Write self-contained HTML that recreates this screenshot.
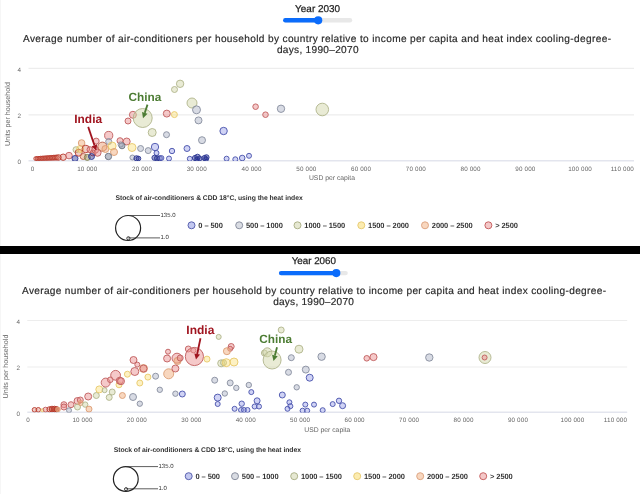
<!DOCTYPE html>
<html><head><meta charset="utf-8"><style>
html,body{margin:0;padding:0;background:#fff;width:640px;height:494px;overflow:hidden}
svg{display:block;font-family:"Liberation Sans", sans-serif;will-change:transform;text-rendering:geometricPrecision}
</style></head><body>
<svg width="640" height="494" viewBox="0 0 640 494">
<defs><clipPath id="c1"><rect x="0" y="60" width="640" height="101"/></clipPath><clipPath id="c2"><rect x="0" y="312" width="640" height="100.5"/></clipPath></defs>
<text x="317.6" y="11.6" font-size="9.95" fill="#222" stroke="#222" stroke-width="0.25" text-anchor="middle">Year 2030</text>
<line x1="285.3" x2="350" y1="20.3" y2="20.3" stroke="#e8e8e8" stroke-width="4.4" stroke-linecap="round"/>
<line x1="285.3" x2="318.2" y1="20.3" y2="20.3" stroke="#0b6cfb" stroke-width="4.4" stroke-linecap="round"/>
<circle cx="318.2" cy="20.3" r="4.1" fill="#0b6cfb"/>
<text x="317" y="41.8" font-size="10.1" fill="#2a2a2a" stroke="#2a2a2a" stroke-width="0.18" text-anchor="middle" textLength="588" lengthAdjust="spacing">Average number of air-conditioners per household by country relative to income per capita and heat index cooling-degree-</text>
<text x="317.7" y="53.1" font-size="10.1" fill="#2a2a2a" stroke="#2a2a2a" stroke-width="0.18" text-anchor="middle" textLength="81.6" lengthAdjust="spacing">days, 1990–2070</text>
<line x1="28.5" x2="634" y1="68.4" y2="68.4" stroke="#ededed" stroke-width="1.2"/>
<line x1="28.5" x2="634" y1="114.95" y2="114.95" stroke="#ededed" stroke-width="1.2"/>
<line x1="28.5" x2="634" y1="160.8" y2="160.8" stroke="#e3e5ee" stroke-width="1.6"/>
<text x="21" y="71.6" font-size="6.3" fill="#666" text-anchor="end">4</text>
<text x="21" y="117.8" font-size="6.3" fill="#666" text-anchor="end">2</text>
<text x="21" y="164" font-size="6.3" fill="#666" text-anchor="end">0</text>
<text transform="translate(10,114) rotate(-90)" font-size="7.2" fill="#666" text-anchor="middle">Units per household</text>
<text x="32.6" y="170.7" font-size="6.3" fill="#666" text-anchor="middle" letter-spacing="0.15">0</text>
<text x="87.3" y="170.7" font-size="6.3" fill="#666" text-anchor="middle" letter-spacing="0.15">10 000</text>
<text x="142.1" y="170.7" font-size="6.3" fill="#666" text-anchor="middle" letter-spacing="0.15">20 000</text>
<text x="196.8" y="170.7" font-size="6.3" fill="#666" text-anchor="middle" letter-spacing="0.15">30 000</text>
<text x="251.6" y="170.7" font-size="6.3" fill="#666" text-anchor="middle" letter-spacing="0.15">40 000</text>
<text x="306.4" y="170.7" font-size="6.3" fill="#666" text-anchor="middle" letter-spacing="0.15">50 000</text>
<text x="361.1" y="170.7" font-size="6.3" fill="#666" text-anchor="middle" letter-spacing="0.15">60 000</text>
<text x="415.9" y="170.7" font-size="6.3" fill="#666" text-anchor="middle" letter-spacing="0.15">70 000</text>
<text x="470.6" y="170.7" font-size="6.3" fill="#666" text-anchor="middle" letter-spacing="0.15">80 000</text>
<text x="525.4" y="170.7" font-size="6.3" fill="#666" text-anchor="middle" letter-spacing="0.15">90 000</text>
<text x="580.1" y="170.7" font-size="6.3" fill="#666" text-anchor="middle" letter-spacing="0.15">100 000</text>
<text x="634.0" y="170.7" font-size="6.3" fill="#666" text-anchor="end" letter-spacing="0.15">110 000</text>
<text x="332" y="180.3" font-size="6.8" fill="#666" text-anchor="middle">USD per capita</text>
<g clip-path="url(#c1)"><circle cx="35.8" cy="158.6" r="2.0" fill="rgba(215,110,90,0.35)" stroke="#b83a2e" stroke-width="0.9"/>
<circle cx="37.4" cy="158.51999999999998" r="2.04" fill="rgba(215,110,90,0.35)" stroke="#b83a2e" stroke-width="0.9"/>
<circle cx="39.0" cy="158.44" r="2.08" fill="rgba(215,110,90,0.35)" stroke="#b83a2e" stroke-width="0.9"/>
<circle cx="40.599999999999994" cy="158.35999999999999" r="2.12" fill="rgba(215,110,90,0.35)" stroke="#b83a2e" stroke-width="0.9"/>
<circle cx="42.199999999999996" cy="158.28" r="2.16" fill="rgba(215,110,90,0.35)" stroke="#b83a2e" stroke-width="0.9"/>
<circle cx="43.8" cy="158.2" r="2.2" fill="rgba(215,110,90,0.35)" stroke="#b83a2e" stroke-width="0.9"/>
<circle cx="45.4" cy="158.12" r="2.24" fill="rgba(215,110,90,0.35)" stroke="#b83a2e" stroke-width="0.9"/>
<circle cx="47.0" cy="158.04" r="2.2800000000000002" fill="rgba(215,110,90,0.35)" stroke="#b83a2e" stroke-width="0.9"/>
<circle cx="48.599999999999994" cy="157.96" r="2.32" fill="rgba(215,110,90,0.35)" stroke="#b83a2e" stroke-width="0.9"/>
<circle cx="50.199999999999996" cy="157.88" r="2.36" fill="rgba(215,110,90,0.35)" stroke="#b83a2e" stroke-width="0.9"/>
<circle cx="51.8" cy="157.79999999999998" r="2.4" fill="rgba(215,110,90,0.35)" stroke="#b83a2e" stroke-width="0.9"/>
<circle cx="53.4" cy="157.72" r="2.44" fill="rgba(215,110,90,0.35)" stroke="#b83a2e" stroke-width="0.9"/>
<circle cx="55.0" cy="157.64" r="2.48" fill="rgba(215,110,90,0.35)" stroke="#b83a2e" stroke-width="0.9"/>
<circle cx="56.599999999999994" cy="157.56" r="2.52" fill="rgba(215,110,90,0.35)" stroke="#b83a2e" stroke-width="0.9"/>
<circle cx="58.5" cy="157.5" r="2.8" fill="rgba(215,110,90,0.35)" stroke="#b83a2e" stroke-width="0.9"/>
<circle cx="63.2" cy="157.2" r="3.2" fill="rgba(215,110,90,0.35)" stroke="#b83a2e" stroke-width="0.9"/>
<circle cx="69" cy="155.6" r="3.3" fill="rgba(235,148,148,0.5)" stroke="#bf5c5c" stroke-width="0.9"/>
<circle cx="75" cy="158.5" r="3" fill="rgba(40,50,150,0.45)" stroke="#2c3792" stroke-width="0.9"/>
<circle cx="76" cy="149.7" r="3" fill="rgba(212,215,172,0.5)" stroke="#b0b48b" stroke-width="0.9"/>
<circle cx="78.7" cy="152.7" r="3.5" fill="rgba(215,110,90,0.35)" stroke="#b83a2e" stroke-width="0.9"/>
<circle cx="80.2" cy="149" r="3.5" fill="rgba(249,217,97,0.38)" stroke="#e8c86a" stroke-width="0.9"/>
<circle cx="81.6" cy="143" r="3.3" fill="rgba(241,175,127,0.5)" stroke="#db9d74" stroke-width="0.9"/>
<circle cx="83.2" cy="156.5" r="3" fill="rgba(235,160,120,0.5)" stroke="#b8604f" stroke-width="0.9"/>
<circle cx="93" cy="153" r="3" fill="rgba(215,110,90,0.35)" stroke="#b83a2e" stroke-width="0.9"/>
<circle cx="85.8" cy="149" r="3.8" fill="rgba(215,110,90,0.35)" stroke="#b83a2e" stroke-width="0.9"/>
<circle cx="87.3" cy="157.4" r="3" fill="rgba(150,150,90,0.5)" stroke="#7f8050" stroke-width="0.9"/>
<circle cx="90" cy="149.7" r="3" fill="rgba(235,148,148,0.5)" stroke="#bf5c5c" stroke-width="0.9"/>
<circle cx="95.2" cy="149.7" r="3.5" fill="rgba(235,148,148,0.5)" stroke="#bf5c5c" stroke-width="0.9"/>
<circle cx="96.2" cy="141.1" r="3" fill="rgba(235,148,148,0.5)" stroke="#bf5c5c" stroke-width="0.9"/>
<circle cx="97.5" cy="152.7" r="3.6" fill="rgba(235,148,148,0.5)" stroke="#bf5c5c" stroke-width="0.9"/>
<circle cx="91.5" cy="156.5" r="3" fill="rgba(40,50,150,0.45)" stroke="#2c3792" stroke-width="0.9"/>
<circle cx="102.4" cy="146.7" r="4.6" fill="rgba(235,160,120,0.5)" stroke="#b8604f" stroke-width="0.9"/>
<circle cx="105.4" cy="149" r="3.5" fill="rgba(241,175,127,0.5)" stroke="#db9d74" stroke-width="0.9"/>
<circle cx="108.7" cy="135.5" r="4.1" fill="rgba(235,148,148,0.5)" stroke="#bf5c5c" stroke-width="0.9"/>
<circle cx="108.7" cy="141.5" r="3" fill="rgba(178,184,202,0.5)" stroke="#878d9e" stroke-width="0.9"/>
<circle cx="112.1" cy="146" r="4" fill="rgba(249,217,97,0.38)" stroke="#e8c86a" stroke-width="0.9"/>
<circle cx="114" cy="152" r="3.5" fill="rgba(241,175,127,0.5)" stroke="#db9d74" stroke-width="0.9"/>
<circle cx="108.4" cy="156.5" r="3.2" fill="rgba(120,128,148,0.5)" stroke="#6a7080" stroke-width="0.9"/>
<circle cx="120" cy="140.7" r="3" fill="rgba(235,148,148,0.5)" stroke="#bf5c5c" stroke-width="0.9"/>
<circle cx="126.7" cy="141.5" r="3.5" fill="rgba(235,148,148,0.5)" stroke="#bf5c5c" stroke-width="0.9"/>
<circle cx="122" cy="145.8" r="3" fill="rgba(120,128,148,0.5)" stroke="#6a7080" stroke-width="0.9"/>
<circle cx="120.7" cy="144.5" r="2.6" fill="rgba(178,184,202,0.5)" stroke="#878d9e" stroke-width="0.9"/>
<circle cx="128" cy="121" r="3" fill="rgba(235,148,148,0.5)" stroke="#bf5c5c" stroke-width="0.9"/>
<circle cx="132.9" cy="114.8" r="3.5" fill="rgba(235,148,148,0.5)" stroke="#bf5c5c" stroke-width="0.9"/>
<circle cx="142.7" cy="118" r="9.5" fill="rgba(212,215,172,0.5)" stroke="#b0b48b" stroke-width="0.9"/>
<circle cx="152.2" cy="132.5" r="4" fill="rgba(212,215,172,0.5)" stroke="#b0b48b" stroke-width="0.9"/>
<circle cx="166.5" cy="134.7" r="3" fill="rgba(178,184,202,0.5)" stroke="#878d9e" stroke-width="0.9"/>
<circle cx="166.8" cy="113.6" r="3.5" fill="rgba(235,148,148,0.5)" stroke="#bf5c5c" stroke-width="0.9"/>
<circle cx="132" cy="147.5" r="4" fill="rgba(249,217,97,0.38)" stroke="#e8c86a" stroke-width="0.9"/>
<circle cx="140.6" cy="148.5" r="3" fill="rgba(178,184,202,0.5)" stroke="#878d9e" stroke-width="0.9"/>
<circle cx="148.2" cy="150.6" r="3" fill="rgba(178,184,202,0.5)" stroke="#878d9e" stroke-width="0.9"/>
<circle cx="155" cy="147" r="3.7" fill="rgba(150,158,232,0.45)" stroke="#4650aa" stroke-width="0.9"/>
<circle cx="156.5" cy="153" r="2.5" fill="rgba(150,158,232,0.45)" stroke="#4650aa" stroke-width="0.9"/>
<circle cx="132.4" cy="157.5" r="2.5" fill="rgba(178,184,202,0.5)" stroke="#878d9e" stroke-width="0.9"/>
<circle cx="136.5" cy="158.3" r="2.6" fill="rgba(40,50,150,0.45)" stroke="#2c3792" stroke-width="0.9"/>
<circle cx="138.5" cy="158.5" r="2.3" fill="rgba(40,50,150,0.45)" stroke="#2c3792" stroke-width="0.9"/>
<circle cx="154.5" cy="157.8" r="2.6" fill="rgba(40,50,150,0.45)" stroke="#2c3792" stroke-width="0.9"/>
<circle cx="157" cy="158.3" r="2.6" fill="rgba(40,50,150,0.45)" stroke="#2c3792" stroke-width="0.9"/>
<circle cx="159.8" cy="158.3" r="2.6" fill="rgba(40,50,150,0.45)" stroke="#2c3792" stroke-width="0.9"/>
<circle cx="161.5" cy="158" r="2.4" fill="rgba(150,158,232,0.45)" stroke="#4650aa" stroke-width="0.9"/>
<circle cx="180.1" cy="83.8" r="3.7" fill="rgba(212,215,172,0.5)" stroke="#b0b48b" stroke-width="0.9"/>
<circle cx="174.5" cy="89.5" r="3" fill="rgba(212,215,172,0.5)" stroke="#b0b48b" stroke-width="0.9"/>
<circle cx="192" cy="103" r="5" fill="rgba(212,215,172,0.5)" stroke="#b0b48b" stroke-width="0.9"/>
<circle cx="196.5" cy="109.8" r="4" fill="rgba(178,184,202,0.5)" stroke="#878d9e" stroke-width="0.9"/>
<circle cx="174.4" cy="114.6" r="3" fill="rgba(249,217,97,0.38)" stroke="#e8c86a" stroke-width="0.9"/>
<circle cx="198.5" cy="120.4" r="3.5" fill="rgba(178,184,202,0.5)" stroke="#878d9e" stroke-width="0.9"/>
<circle cx="202" cy="140.2" r="3.5" fill="rgba(178,184,202,0.5)" stroke="#878d9e" stroke-width="0.9"/>
<circle cx="187" cy="148.5" r="3" fill="rgba(150,158,232,0.45)" stroke="#4650aa" stroke-width="0.9"/>
<circle cx="172" cy="151" r="2.7" fill="rgba(150,158,232,0.45)" stroke="#4650aa" stroke-width="0.9"/>
<circle cx="169" cy="158.5" r="2.5" fill="rgba(150,158,232,0.45)" stroke="#4650aa" stroke-width="0.9"/>
<circle cx="189.8" cy="158.8" r="2.5" fill="rgba(150,158,232,0.45)" stroke="#4650aa" stroke-width="0.9"/>
<circle cx="195" cy="158" r="2.6" fill="rgba(40,50,150,0.45)" stroke="#2c3792" stroke-width="0.9"/>
<circle cx="197.5" cy="157" r="2.8" fill="rgba(40,50,150,0.45)" stroke="#2c3792" stroke-width="0.9"/>
<circle cx="199.5" cy="158.5" r="2.5" fill="rgba(40,50,150,0.45)" stroke="#2c3792" stroke-width="0.9"/>
<circle cx="197" cy="159.5" r="2.4" fill="rgba(40,50,150,0.45)" stroke="#2c3792" stroke-width="0.9"/>
<circle cx="204.5" cy="158" r="2.6" fill="rgba(40,50,150,0.45)" stroke="#2c3792" stroke-width="0.9"/>
<circle cx="206.5" cy="157.3" r="2.6" fill="rgba(40,50,150,0.45)" stroke="#2c3792" stroke-width="0.9"/>
<circle cx="206" cy="159.2" r="2.4" fill="rgba(40,50,150,0.45)" stroke="#2c3792" stroke-width="0.9"/>
<circle cx="223.6" cy="131" r="3.7" fill="rgba(150,158,232,0.45)" stroke="#4650aa" stroke-width="0.9"/>
<circle cx="226.6" cy="158.7" r="2.5" fill="rgba(150,158,232,0.45)" stroke="#4650aa" stroke-width="0.9"/>
<circle cx="235.3" cy="159.3" r="2.5" fill="rgba(150,158,232,0.45)" stroke="#4650aa" stroke-width="0.9"/>
<circle cx="242.2" cy="158" r="2.8" fill="rgba(150,158,232,0.45)" stroke="#4650aa" stroke-width="0.9"/>
<circle cx="249" cy="155.8" r="2.5" fill="rgba(150,158,232,0.45)" stroke="#4650aa" stroke-width="0.9"/>
<circle cx="255.6" cy="106.7" r="2.8" fill="rgba(235,148,148,0.5)" stroke="#bf5c5c" stroke-width="0.9"/>
<circle cx="265.5" cy="114.7" r="2.8" fill="rgba(235,148,148,0.5)" stroke="#bf5c5c" stroke-width="0.9"/>
<circle cx="281" cy="108.75" r="3.7" fill="rgba(178,184,202,0.5)" stroke="#878d9e" stroke-width="0.9"/>
<circle cx="322.3" cy="109.5" r="6.3" fill="rgba(212,215,172,0.5)" stroke="#b0b48b" stroke-width="0.9"/></g>
<text x="115.5" y="200.4" font-size="6.8" font-weight="bold" fill="#333" letter-spacing="-0.05">Stock of air-conditioners &amp; CDD 18°C, using the heat index</text>
<circle cx="128.1" cy="228" r="12.5" fill="none" stroke="#222" stroke-width="1.2"/>
<circle cx="128.4" cy="238.3" r="1.6" fill="none" stroke="#222" stroke-width="0.9"/>
<line x1="128.1" x2="160" y1="215.5" y2="215.5" stroke="#333" stroke-width="0.8"/>
<line x1="128.1" x2="160" y1="237.9" y2="237.9" stroke="#333" stroke-width="0.8"/>
<text x="160.5" y="216.9" font-size="6" fill="#333">135.0</text>
<text x="160.5" y="239.2" font-size="6" fill="#333">1.0</text>
<circle cx="191.5" cy="225.3" r="3.5" fill="#c3c8f0" stroke="#5a62b0" stroke-width="1"/>
<text x="198.3" y="228.10000000000002" font-size="7.5" font-weight="bold" letter-spacing="-0.08" fill="#333">0 – 500</text>
<circle cx="239.2" cy="225.3" r="3.5" fill="#d9dce3" stroke="#8a90a0" stroke-width="1"/>
<text x="246.0" y="228.10000000000002" font-size="7.5" font-weight="bold" letter-spacing="-0.08" fill="#333">500 – 1000</text>
<circle cx="297.5" cy="225.3" r="3.5" fill="#e6e8d2" stroke="#aeb38a" stroke-width="1"/>
<text x="304.3" y="228.10000000000002" font-size="7.5" font-weight="bold" letter-spacing="-0.08" fill="#333">1000 – 1500</text>
<circle cx="361.3" cy="225.3" r="3.5" fill="#fcecb0" stroke="#e8cc76" stroke-width="1"/>
<text x="368.1" y="228.10000000000002" font-size="7.5" font-weight="bold" letter-spacing="-0.08" fill="#333">1500 – 2000</text>
<circle cx="425" cy="225.3" r="3.5" fill="#f8d7bf" stroke="#dea684" stroke-width="1"/>
<text x="431.8" y="228.10000000000002" font-size="7.5" font-weight="bold" letter-spacing="-0.08" fill="#333">2000 – 2500</text>
<circle cx="488.4" cy="225.3" r="3.5" fill="#f4c8c8" stroke="#c86464" stroke-width="1"/>
<text x="495.2" y="228.10000000000002" font-size="7.5" font-weight="bold" letter-spacing="-0.08" fill="#333">&gt; 2500</text>
<text x="74.3" y="122.8" font-size="11.9" font-weight="bold" fill="#a0141f">India</text>
<line x1="88.2" y1="126.9" x2="94.41" y2="145.29" stroke="#a0141f" stroke-width="1.8"/>
<polygon points="96.2,150.6 91.66,146.22 97.16,144.37" fill="#a0141f"/>
<text x="128.5" y="101" font-size="11.8" font-weight="bold" fill="#4c7c33">China</text>
<line x1="147.5" y1="104.6" x2="144.76" y2="112.88" stroke="#4c7c33" stroke-width="1.8"/>
<polygon points="143,118.2 142.01,111.97 147.51,113.79" fill="#4c7c33"/>
<line x1="0.5" x2="0.5" y1="0" y2="494" stroke="#f6f6f6" stroke-width="1"/>
<rect x="0" y="246" width="640" height="8" fill="#000"/>
<text x="313.8" y="264.1" font-size="9.8" fill="#222" stroke="#222" stroke-width="0.25" text-anchor="middle">Year 2060</text>
<line x1="281.1" x2="345.6" y1="273.1" y2="273.1" stroke="#e8e8e8" stroke-width="4.4" stroke-linecap="round"/>
<line x1="281.1" x2="336.3" y1="273.1" y2="273.1" stroke="#0b6cfb" stroke-width="4.4" stroke-linecap="round"/>
<circle cx="336.3" cy="273.1" r="4.1" fill="#0b6cfb"/>
<text x="314" y="294" font-size="10.1" fill="#2a2a2a" stroke="#2a2a2a" stroke-width="0.18" text-anchor="middle" textLength="584" lengthAdjust="spacing">Average number of air-conditioners per household by country relative to income per capita and heat index cooling-degree-</text>
<text x="313.5" y="305" font-size="10.1" fill="#2a2a2a" stroke="#2a2a2a" stroke-width="0.18" text-anchor="middle" textLength="80.7" lengthAdjust="spacing">days, 1990–2070</text>
<line x1="27.3" x2="627.2" y1="320.5" y2="320.5" stroke="#ededed" stroke-width="1.2"/>
<line x1="27.3" x2="627.2" y1="367.0" y2="367.0" stroke="#ededed" stroke-width="1.2"/>
<line x1="27.3" x2="627.2" y1="412.2" y2="412.2" stroke="#e3e5ee" stroke-width="1.6"/>
<text x="20" y="324" font-size="6.3" fill="#666" text-anchor="end">4</text>
<text x="20" y="369.7" font-size="6.3" fill="#666" text-anchor="end">2</text>
<text x="20" y="415.5" font-size="6.3" fill="#666" text-anchor="end">0</text>
<text transform="translate(8.4,366.5) rotate(-90)" font-size="7.2" fill="#666" text-anchor="middle">Units per household</text>
<text x="28.0" y="422.2" font-size="6.3" fill="#666" text-anchor="middle" letter-spacing="0.15">0</text>
<text x="82.5" y="422.2" font-size="6.3" fill="#666" text-anchor="middle" letter-spacing="0.15">10 000</text>
<text x="136.9" y="422.2" font-size="6.3" fill="#666" text-anchor="middle" letter-spacing="0.15">20 000</text>
<text x="191.4" y="422.2" font-size="6.3" fill="#666" text-anchor="middle" letter-spacing="0.15">30 000</text>
<text x="245.8" y="422.2" font-size="6.3" fill="#666" text-anchor="middle" letter-spacing="0.15">40 000</text>
<text x="300.2" y="422.2" font-size="6.3" fill="#666" text-anchor="middle" letter-spacing="0.15">50 000</text>
<text x="354.7" y="422.2" font-size="6.3" fill="#666" text-anchor="middle" letter-spacing="0.15">60 000</text>
<text x="409.2" y="422.2" font-size="6.3" fill="#666" text-anchor="middle" letter-spacing="0.15">70 000</text>
<text x="463.6" y="422.2" font-size="6.3" fill="#666" text-anchor="middle" letter-spacing="0.15">80 000</text>
<text x="518.0" y="422.2" font-size="6.3" fill="#666" text-anchor="middle" letter-spacing="0.15">90 000</text>
<text x="572.5" y="422.2" font-size="6.3" fill="#666" text-anchor="middle" letter-spacing="0.15">100 000</text>
<text x="627.2" y="422.2" font-size="6.3" fill="#666" text-anchor="end" letter-spacing="0.15">110 000</text>
<text x="327.3" y="431.5" font-size="6.8" fill="#666" text-anchor="middle">USD per capita</text>
<g clip-path="url(#c2)"><circle cx="34.5" cy="409.8" r="2.3" fill="rgba(215,110,90,0.35)" stroke="#b83a2e" stroke-width="0.9"/>
<circle cx="38.3" cy="409.8" r="2.3" fill="rgba(215,110,90,0.35)" stroke="#b83a2e" stroke-width="0.9"/>
<circle cx="42.5" cy="410.2" r="1.6" fill="rgba(249,217,97,0.38)" stroke="#e8c86a" stroke-width="0.9"/>
<circle cx="45.5" cy="409.6" r="2.4" fill="rgba(235,148,148,0.5)" stroke="#bf5c5c" stroke-width="0.9"/>
<circle cx="49.5" cy="409.3" r="2.6" fill="rgba(215,110,90,0.35)" stroke="#b83a2e" stroke-width="0.9"/>
<circle cx="52" cy="409" r="2.8" fill="rgba(190,60,40,0.55)" stroke="#b4382a" stroke-width="0.9"/>
<circle cx="54.5" cy="409" r="2.8" fill="rgba(190,60,40,0.55)" stroke="#b4382a" stroke-width="0.9"/>
<circle cx="56.5" cy="409.2" r="2.7" fill="rgba(190,60,40,0.55)" stroke="#b4382a" stroke-width="0.9"/>
<circle cx="58" cy="409.5" r="2.3" fill="rgba(241,175,127,0.5)" stroke="#db9d74" stroke-width="0.9"/>
<circle cx="63.9" cy="404.7" r="3" fill="rgba(235,148,148,0.5)" stroke="#bf5c5c" stroke-width="0.9"/>
<circle cx="63.9" cy="407" r="3" fill="rgba(235,148,148,0.5)" stroke="#bf5c5c" stroke-width="0.9"/>
<circle cx="71" cy="404.7" r="3" fill="rgba(235,148,148,0.5)" stroke="#bf5c5c" stroke-width="0.9"/>
<circle cx="69" cy="410.3" r="2.5" fill="rgba(178,184,202,0.5)" stroke="#878d9e" stroke-width="0.9"/>
<circle cx="77.5" cy="401" r="3.5" fill="rgba(235,148,148,0.5)" stroke="#bf5c5c" stroke-width="0.9"/>
<circle cx="80.3" cy="400" r="3" fill="rgba(235,148,148,0.5)" stroke="#bf5c5c" stroke-width="0.9"/>
<circle cx="77.5" cy="407" r="3" fill="rgba(212,215,172,0.5)" stroke="#b0b48b" stroke-width="0.9"/>
<circle cx="80.6" cy="403" r="2.5" fill="rgba(241,175,127,0.5)" stroke="#db9d74" stroke-width="0.9"/>
<circle cx="85.2" cy="404.6" r="2.7" fill="rgba(212,215,172,0.5)" stroke="#b0b48b" stroke-width="0.9"/>
<circle cx="89" cy="409.1" r="3" fill="rgba(241,175,127,0.5)" stroke="#db9d74" stroke-width="0.9"/>
<circle cx="88.2" cy="396.5" r="3.5" fill="rgba(235,148,148,0.5)" stroke="#bf5c5c" stroke-width="0.9"/>
<circle cx="96.3" cy="395.5" r="3" fill="rgba(212,215,172,0.5)" stroke="#b0b48b" stroke-width="0.9"/>
<circle cx="99.3" cy="389.4" r="3.5" fill="rgba(249,217,97,0.38)" stroke="#e8c86a" stroke-width="0.9"/>
<circle cx="104.6" cy="390.2" r="2.5" fill="rgba(212,215,172,0.5)" stroke="#b0b48b" stroke-width="0.9"/>
<circle cx="112.2" cy="392" r="3" fill="rgba(212,215,172,0.5)" stroke="#b0b48b" stroke-width="0.9"/>
<circle cx="109.2" cy="397.4" r="3" fill="rgba(212,215,172,0.5)" stroke="#b0b48b" stroke-width="0.9"/>
<circle cx="122.4" cy="395.5" r="3" fill="rgba(241,175,127,0.5)" stroke="#db9d74" stroke-width="0.9"/>
<circle cx="105.7" cy="382.6" r="4.5" fill="rgba(235,148,148,0.5)" stroke="#bf5c5c" stroke-width="0.9"/>
<circle cx="110.3" cy="379.8" r="2.8" fill="rgba(235,148,148,0.5)" stroke="#bf5c5c" stroke-width="0.9"/>
<circle cx="115.6" cy="375.3" r="4.9" fill="rgba(235,148,148,0.5)" stroke="#bf5c5c" stroke-width="0.9"/>
<circle cx="119" cy="384.8" r="3" fill="rgba(249,217,97,0.38)" stroke="#e8c86a" stroke-width="0.9"/>
<circle cx="119.8" cy="380.7" r="3.5" fill="rgba(235,148,148,0.5)" stroke="#bf5c5c" stroke-width="0.9"/>
<circle cx="127.4" cy="374.2" r="3" fill="rgba(249,217,97,0.38)" stroke="#e8c86a" stroke-width="0.9"/>
<circle cx="121" cy="381.2" r="3.5" fill="rgba(235,148,148,0.5)" stroke="#bf5c5c" stroke-width="0.9"/>
<circle cx="133.5" cy="360" r="3.5" fill="rgba(235,148,148,0.5)" stroke="#bf5c5c" stroke-width="0.9"/>
<circle cx="137.3" cy="364.6" r="2.5" fill="rgba(235,148,148,0.5)" stroke="#bf5c5c" stroke-width="0.9"/>
<circle cx="134.8" cy="371.5" r="4" fill="rgba(235,148,148,0.5)" stroke="#bf5c5c" stroke-width="0.9"/>
<circle cx="143.5" cy="368.5" r="4" fill="rgba(241,175,127,0.5)" stroke="#db9d74" stroke-width="0.9"/>
<circle cx="143.5" cy="368.5" r="3.5" fill="rgba(235,148,148,0.5)" stroke="#bf5c5c" stroke-width="0.9"/>
<circle cx="147.9" cy="377.1" r="3" fill="rgba(249,217,97,0.38)" stroke="#e8c86a" stroke-width="0.9"/>
<circle cx="139.8" cy="383" r="3" fill="rgba(249,217,97,0.38)" stroke="#e8c86a" stroke-width="0.9"/>
<circle cx="155.6" cy="376.2" r="3" fill="rgba(178,184,202,0.5)" stroke="#878d9e" stroke-width="0.9"/>
<circle cx="159.8" cy="389.8" r="2.7" fill="rgba(178,184,202,0.5)" stroke="#878d9e" stroke-width="0.9"/>
<circle cx="133" cy="397" r="3.5" fill="rgba(178,184,202,0.5)" stroke="#878d9e" stroke-width="0.9"/>
<circle cx="139.8" cy="403.7" r="2.7" fill="rgba(178,184,202,0.5)" stroke="#878d9e" stroke-width="0.9"/>
<circle cx="175.4" cy="393.7" r="2.7" fill="rgba(178,184,202,0.5)" stroke="#878d9e" stroke-width="0.9"/>
<circle cx="168" cy="351.7" r="2.5" fill="rgba(235,148,148,0.5)" stroke="#bf5c5c" stroke-width="0.9"/>
<circle cx="167.1" cy="358.5" r="3.5" fill="rgba(235,148,148,0.5)" stroke="#bf5c5c" stroke-width="0.9"/>
<circle cx="168.7" cy="373.8" r="5" fill="rgba(241,175,127,0.5)" stroke="#db9d74" stroke-width="0.9"/>
<circle cx="177" cy="358.2" r="5" fill="rgba(235,148,148,0.5)" stroke="#bf5c5c" stroke-width="0.9"/>
<circle cx="177.5" cy="361" r="3.6" fill="rgba(241,175,127,0.5)" stroke="#db9d74" stroke-width="0.9"/>
<circle cx="175.4" cy="368.5" r="3.5" fill="rgba(235,148,148,0.5)" stroke="#bf5c5c" stroke-width="0.9"/>
<circle cx="180.2" cy="358" r="3" fill="rgba(235,148,148,0.5)" stroke="#bf5c5c" stroke-width="0.9"/>
<circle cx="188.3" cy="349" r="3" fill="rgba(235,148,148,0.5)" stroke="#bf5c5c" stroke-width="0.9"/>
<circle cx="193.4" cy="350.4" r="2.5" fill="rgba(235,148,148,0.5)" stroke="#bf5c5c" stroke-width="0.9"/>
<circle cx="194.4" cy="356.5" r="9.1" fill="rgba(235,148,148,0.5)" stroke="#bf5c5c" stroke-width="0.9"/>
<circle cx="207" cy="359.1" r="3" fill="rgba(249,217,97,0.38)" stroke="#e8c86a" stroke-width="0.9"/>
<circle cx="214.7" cy="380.2" r="3" fill="rgba(178,184,202,0.5)" stroke="#878d9e" stroke-width="0.9"/>
<circle cx="182.3" cy="394" r="3" fill="rgba(150,158,232,0.45)" stroke="#4650aa" stroke-width="0.9"/>
<circle cx="217.7" cy="397.6" r="3.5" fill="rgba(150,158,232,0.45)" stroke="#4650aa" stroke-width="0.9"/>
<circle cx="217.7" cy="404" r="2.5" fill="rgba(150,158,232,0.45)" stroke="#4650aa" stroke-width="0.9"/>
<circle cx="218.7" cy="336.9" r="2.5" fill="rgba(212,215,172,0.5)" stroke="#b0b48b" stroke-width="0.9"/>
<circle cx="231.2" cy="346.5" r="3" fill="rgba(235,148,148,0.5)" stroke="#bf5c5c" stroke-width="0.9"/>
<circle cx="230.2" cy="348.8" r="2.5" fill="rgba(235,148,148,0.5)" stroke="#bf5c5c" stroke-width="0.9"/>
<circle cx="226.9" cy="351.2" r="3.5" fill="rgba(241,175,127,0.5)" stroke="#db9d74" stroke-width="0.9"/>
<circle cx="221.2" cy="363.3" r="3.5" fill="rgba(212,215,172,0.5)" stroke="#b0b48b" stroke-width="0.9"/>
<circle cx="223.5" cy="362.7" r="3" fill="rgba(212,215,172,0.5)" stroke="#b0b48b" stroke-width="0.9"/>
<circle cx="226.3" cy="362.7" r="4" fill="rgba(249,217,97,0.38)" stroke="#e8c86a" stroke-width="0.9"/>
<circle cx="234" cy="362" r="4" fill="rgba(249,217,97,0.38)" stroke="#e8c86a" stroke-width="0.9"/>
<circle cx="230.2" cy="382.9" r="3" fill="rgba(178,184,202,0.5)" stroke="#878d9e" stroke-width="0.9"/>
<circle cx="236.3" cy="387.9" r="2.7" fill="rgba(178,184,202,0.5)" stroke="#878d9e" stroke-width="0.9"/>
<circle cx="248.8" cy="385" r="2.7" fill="rgba(178,184,202,0.5)" stroke="#878d9e" stroke-width="0.9"/>
<circle cx="224.8" cy="393.5" r="2.7" fill="rgba(178,184,202,0.5)" stroke="#878d9e" stroke-width="0.9"/>
<circle cx="251.3" cy="392.1" r="2.5" fill="rgba(150,158,232,0.45)" stroke="#4650aa" stroke-width="0.9"/>
<circle cx="241.7" cy="403.7" r="2.7" fill="rgba(150,158,232,0.45)" stroke="#4650aa" stroke-width="0.9"/>
<circle cx="234.6" cy="408.8" r="2.5" fill="rgba(150,158,232,0.45)" stroke="#4650aa" stroke-width="0.9"/>
<circle cx="241" cy="410" r="2.5" fill="rgba(150,158,232,0.45)" stroke="#4650aa" stroke-width="0.9"/>
<circle cx="244" cy="410" r="2.5" fill="rgba(150,158,232,0.45)" stroke="#4650aa" stroke-width="0.9"/>
<circle cx="247.5" cy="410" r="2.5" fill="rgba(150,158,232,0.45)" stroke="#4650aa" stroke-width="0.9"/>
<circle cx="257.1" cy="400.8" r="3" fill="rgba(150,158,232,0.45)" stroke="#4650aa" stroke-width="0.9"/>
<circle cx="254.6" cy="406.5" r="2.5" fill="rgba(150,158,232,0.45)" stroke="#4650aa" stroke-width="0.9"/>
<circle cx="259" cy="406.5" r="2.5" fill="rgba(150,158,232,0.45)" stroke="#4650aa" stroke-width="0.9"/>
<circle cx="264.4" cy="353" r="3" fill="rgba(212,215,172,0.5)" stroke="#b0b48b" stroke-width="0.9"/>
<circle cx="267.3" cy="352.3" r="4.5" fill="rgba(212,215,172,0.5)" stroke="#b0b48b" stroke-width="0.9"/>
<circle cx="272.1" cy="360" r="9" fill="rgba(212,215,172,0.5)" stroke="#b0b48b" stroke-width="0.9"/>
<circle cx="281.2" cy="330" r="3" fill="rgba(212,215,172,0.5)" stroke="#b0b48b" stroke-width="0.9"/>
<circle cx="299" cy="349.2" r="4" fill="rgba(212,215,172,0.5)" stroke="#b0b48b" stroke-width="0.9"/>
<circle cx="291.3" cy="357.7" r="3" fill="rgba(178,184,202,0.5)" stroke="#878d9e" stroke-width="0.9"/>
<circle cx="288.5" cy="372.3" r="3" fill="rgba(178,184,202,0.5)" stroke="#878d9e" stroke-width="0.9"/>
<circle cx="305.8" cy="369.6" r="3.5" fill="rgba(178,184,202,0.5)" stroke="#878d9e" stroke-width="0.9"/>
<circle cx="309.7" cy="377.7" r="3.5" fill="rgba(150,158,232,0.45)" stroke="#4650aa" stroke-width="0.9"/>
<circle cx="296.7" cy="387.3" r="2.7" fill="rgba(178,184,202,0.5)" stroke="#878d9e" stroke-width="0.9"/>
<circle cx="282.3" cy="395" r="3" fill="rgba(150,158,232,0.45)" stroke="#4650aa" stroke-width="0.9"/>
<circle cx="289.4" cy="402.3" r="2.5" fill="rgba(150,158,232,0.45)" stroke="#4650aa" stroke-width="0.9"/>
<circle cx="290.4" cy="406.2" r="2.5" fill="rgba(150,158,232,0.45)" stroke="#4650aa" stroke-width="0.9"/>
<circle cx="287.5" cy="408.8" r="2.5" fill="rgba(150,158,232,0.45)" stroke="#4650aa" stroke-width="0.9"/>
<circle cx="321.6" cy="356.7" r="3.7" fill="rgba(178,184,202,0.5)" stroke="#878d9e" stroke-width="0.9"/>
<circle cx="305.3" cy="404.6" r="2.5" fill="rgba(150,158,232,0.45)" stroke="#4650aa" stroke-width="0.9"/>
<circle cx="314" cy="404.6" r="2.5" fill="rgba(150,158,232,0.45)" stroke="#4650aa" stroke-width="0.9"/>
<circle cx="302.6" cy="410.7" r="2.5" fill="rgba(150,158,232,0.45)" stroke="#4650aa" stroke-width="0.9"/>
<circle cx="307.2" cy="410.7" r="2.5" fill="rgba(150,158,232,0.45)" stroke="#4650aa" stroke-width="0.9"/>
<circle cx="322.7" cy="410.2" r="2.5" fill="rgba(150,158,232,0.45)" stroke="#4650aa" stroke-width="0.9"/>
<circle cx="332.7" cy="404.1" r="2.5" fill="rgba(150,158,232,0.45)" stroke="#4650aa" stroke-width="0.9"/>
<circle cx="339" cy="400.8" r="2.7" fill="rgba(150,158,232,0.45)" stroke="#4650aa" stroke-width="0.9"/>
<circle cx="342.6" cy="405.7" r="3" fill="rgba(150,158,232,0.45)" stroke="#4650aa" stroke-width="0.9"/>
<circle cx="366.75" cy="358.3" r="2.8" fill="rgba(235,148,148,0.5)" stroke="#bf5c5c" stroke-width="0.9"/>
<circle cx="373.5" cy="357.1" r="3.55" fill="rgba(235,148,148,0.5)" stroke="#bf5c5c" stroke-width="0.9"/>
<circle cx="429.3" cy="357.5" r="3.7" fill="rgba(178,184,202,0.5)" stroke="#878d9e" stroke-width="0.9"/>
<circle cx="485" cy="357.5" r="6" fill="rgba(212,215,172,0.5)" stroke="#b0b48b" stroke-width="0.9"/>
<circle cx="484.6" cy="357.5" r="2.5" fill="rgba(235,148,148,0.5)" stroke="#bf5c5c" stroke-width="0.9"/></g>
<text x="113.75" y="452" font-size="6.8" font-weight="bold" fill="#333" letter-spacing="-0.05">Stock of air-conditioners &amp; CDD 18°C, using the heat index</text>
<circle cx="125.8" cy="479" r="12.4" fill="none" stroke="#222" stroke-width="1.2"/>
<circle cx="126.1" cy="489.2" r="1.6" fill="none" stroke="#222" stroke-width="0.9"/>
<line x1="125.8" x2="158" y1="466.6" y2="466.6" stroke="#333" stroke-width="0.8"/>
<line x1="125.8" x2="158" y1="488.79999999999995" y2="488.79999999999995" stroke="#333" stroke-width="0.8"/>
<text x="158.5" y="468.0" font-size="6" fill="#333">135.0</text>
<text x="158.5" y="490.09999999999997" font-size="6" fill="#333">1.0</text>
<circle cx="188.7" cy="476.2" r="3.5" fill="#c3c8f0" stroke="#5a62b0" stroke-width="1"/>
<text x="195.5" y="479.0" font-size="7.5" font-weight="bold" letter-spacing="-0.08" fill="#333">0 – 500</text>
<circle cx="235" cy="476.2" r="3.5" fill="#d9dce3" stroke="#8a90a0" stroke-width="1"/>
<text x="241.8" y="479.0" font-size="7.5" font-weight="bold" letter-spacing="-0.08" fill="#333">500 – 1000</text>
<circle cx="294.2" cy="476.2" r="3.5" fill="#e6e8d2" stroke="#aeb38a" stroke-width="1"/>
<text x="301.0" y="479.0" font-size="7.5" font-weight="bold" letter-spacing="-0.08" fill="#333">1000 – 1500</text>
<circle cx="357.2" cy="476.2" r="3.5" fill="#fcecb0" stroke="#e8cc76" stroke-width="1"/>
<text x="364.0" y="479.0" font-size="7.5" font-weight="bold" letter-spacing="-0.08" fill="#333">1500 – 2000</text>
<circle cx="420.2" cy="476.2" r="3.5" fill="#f8d7bf" stroke="#dea684" stroke-width="1"/>
<text x="427.0" y="479.0" font-size="7.5" font-weight="bold" letter-spacing="-0.08" fill="#333">2000 – 2500</text>
<circle cx="483.2" cy="476.2" r="3.5" fill="#f4c8c8" stroke="#c86464" stroke-width="1"/>
<text x="490.0" y="479.0" font-size="7.5" font-weight="bold" letter-spacing="-0.08" fill="#333">&gt; 2500</text>
<text x="186.3" y="333.6" font-size="12" font-weight="bold" fill="#a0141f">India</text>
<line x1="200.5" y1="338.3" x2="197.16" y2="354.02" stroke="#a0141f" stroke-width="1.8"/>
<polygon points="196,359.5 194.33,353.42 200.00,354.62" fill="#a0141f"/>
<text x="259.2" y="343.3" font-size="11.8" font-weight="bold" fill="#4c7c33">China</text>
<line x1="277" y1="347.3" x2="274.89" y2="355.57" stroke="#4c7c33" stroke-width="1.8"/>
<polygon points="273.5,361 272.08,354.86 277.70,356.29" fill="#4c7c33"/>
</svg>
</body></html>
